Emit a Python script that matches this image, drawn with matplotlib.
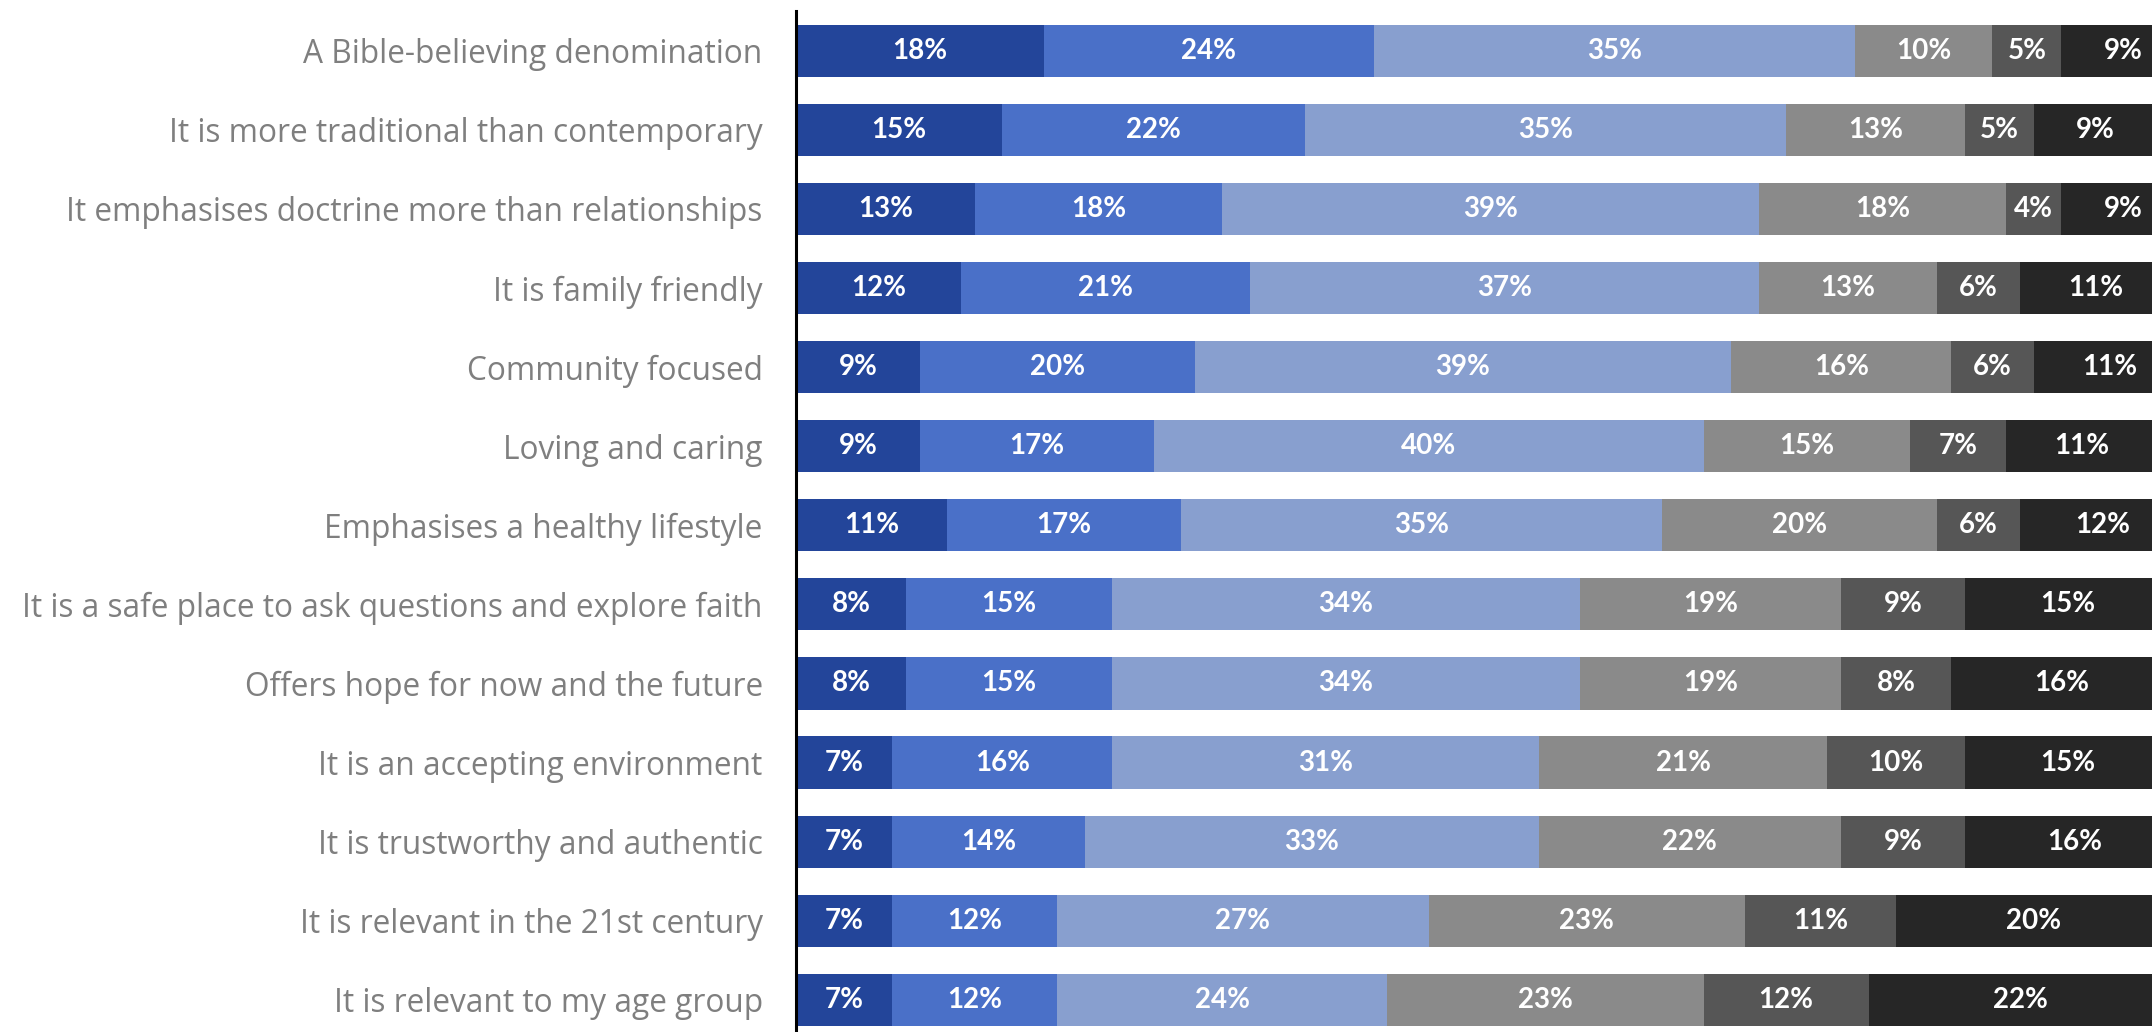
import numpy as np
import matplotlib.pyplot as plt

# statements (top to bottom) and the six response shares in %
statements = [
    "A Bible-believing denomination",
    "It is more traditional than contemporary",
    "It emphasises doctrine more than relationships",
    "It is family friendly",
    "Community focused",
    "Loving and caring",
    "Emphasises a healthy lifestyle",
    "It is a safe place to ask questions and explore faith",
    "Offers hope for now and the future",
    "It is an accepting environment",
    "It is trustworthy and authentic",
    "It is relevant in the 21st century",
    "It is relevant to my age group",
]
s1 = [18, 15, 13, 12, 9, 9, 11, 8, 8, 7, 7, 7, 7]
s2 = [24, 22, 18, 21, 20, 17, 17, 15, 15, 16, 14, 12, 12]
s3 = [35, 35, 39, 37, 39, 40, 35, 34, 34, 31, 33, 27, 24]
s4 = [10, 13, 18, 13, 16, 15, 20, 19, 19, 21, 22, 23, 23]
s5 = [5, 5, 4, 6, 6, 7, 6, 9, 8, 10, 9, 11, 12]
s6 = [9, 9, 9, 11, 11, 11, 12, 15, 16, 15, 16, 20, 22]

series = [s1, s2, s3, s4, s5, s6]
colors = ['#23459a', '#4a70c8', '#889fcf', '#8a8a8a', '#565656', '#262626']

fig = plt.figure(figsize=(21.52, 10.32), dpi=100)
ax = fig.add_axes([796 / 2152, 0, 1 - 796 / 2152, 1])

y = np.arange(len(statements))
left = np.zeros(len(statements))
for vals, col in zip(series, colors):
    vals = np.array(vals, dtype=float)
    ax.barh(y, vals, left=left, height=0.66, color=col, edgecolor='none')
    for yi, l, v in zip(y, left, vals):
        ax.text(l + v / 2, yi, f"{int(v)}%", ha='center', va='center',
                color='white', fontsize=20, fontweight='bold', family='Lato')
    left += vals

ax.set_xlim(0, 98.6)
ax.set_ylim(12.406, -0.641)

ax.set_yticks(y)
ax.set_yticklabels(statements, fontsize=22.8, color='#7f7f7f', family='Open Sans')
ax.tick_params(axis='y', length=0, pad=24)
ax.set_xticks([])

for side in ['top', 'right', 'bottom']:
    ax.spines[side].set_visible(False)
ax.spines['left'].set_linewidth(2.2)
ax.spines['left'].set_color('black')
ax.spines['left'].set_bounds(-0.5, 12.406)

fig.savefig('out.png', dpi=100)
